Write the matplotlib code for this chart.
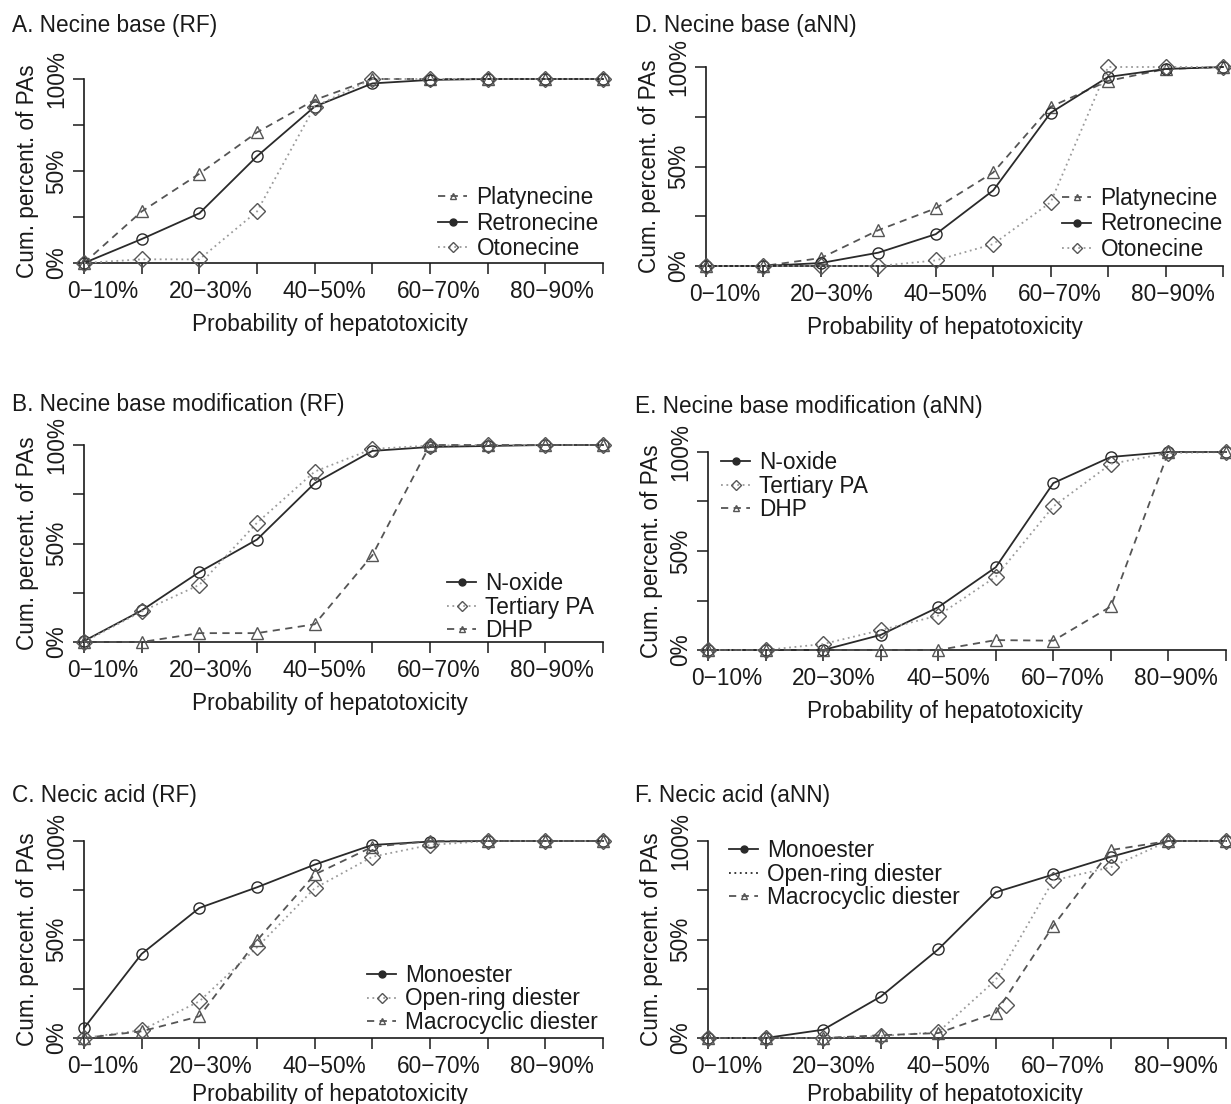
import matplotlib
matplotlib.use("Agg")
import matplotlib.pyplot as plt
from matplotlib.lines import Line2D
from matplotlib.transforms import ScaledTranslation

plt.rcParams["font.family"] = ["Liberation Sans", "DejaVu Sans"]

# probability bins on the x axis
bins = ["0−10%", "10−20%", "20−30%", "30−40%", "40−50%",
        "50−60%", "60−70%", "70−80%", "80−90%", "90−100%"]

# A. Necine base (RF)
a_platy = [0, 28, 48.5, 71, 88.6, 100, 100, 100, 100, 100]
a_retro = [0, 13, 27, 58, 85, 97.6, 99.5, 100, 100, 100]
a_otone = [0, 2, 2, 28, 85, 100, 100, 100, 100, 100]
# D. Necine base (aNN)
d_platy = [0, 0, 4, 18, 29, 47, 80, 93, 99, 100]
d_retro = [0, 0, 1.5, 6.7, 16, 38, 77, 95, 99, 100]
d_otone = [0, 0, 0, 0, 2.8, 11, 32, 100, 100, 100]
# B. Necine base modification (RF)
b_noxide = [0.5, 16, 35.5, 52, 80.6, 97, 99, 99.5, 100, 100]
b_tert = [0, 15.5, 29, 60.5, 86.5, 98, 99.7, 100, 100, 100]
b_dhp = [0, 0, 4.5, 4.5, 9, 44, 100, 100, 100, 100]
# E. Necine base modification (aNN)
e_noxide = [0, 0, 0, 7.6, 21.6, 41.8, 84.3, 97.5, 100, 100]
e_tert = [0, 0, 3, 10, 17.4, 37, 72.5, 94, 99.5, 100]
e_dhp = [0, 0, 0, 0, 0, 5, 4.7, 22, 100, 100]
# C. Necic acid (RF)
c_mono = [5, 42.7, 66, 76.5, 88, 98, 99.7, 100, 100, 100]
c_open = [0, 4, 18.6, 46, 76, 92, 98, 100, 100, 100]
c_macro = [0, 3.4, 11, 49.5, 83, 97, 100, 100, 100, 100]
# F. Necic acid (aNN)
f_mono = [0, 0, 4.2, 21, 45, 74, 83, 92, 100, 100]
f_open = [0, 0, 0, 1, 3, 29.5, 80, 86.7, 100, 100]
f_macro = [0, 0, 0, 1.4, 2.5, 12.7, 57, 95.4, 100, 100]
f_extra_x = [5.18]
f_extra_y = [17]

W, H = 1231, 1104
fig = plt.figure(figsize=(W / 100, H / 100), dpi=100)
fs = 16.3
tc = "#1a1a1a"

# linestyle, marker, line colour, marker colour
styles = {
    "solid": ("-", "o", "#2a2a2a", "#2a2a2a"),
    "dashed": ((0, (4, 3)), "^", "#555555", "#555555"),
    "dotted": ((0, (1, 2)), "D", "#9a9a9a", "#555555"),
}

# R drew the x labels a little right of their ticks
lab_shift = [19, 0, 11, 0, 10, 0, 9, 0, 7, 0]


def handle(kind, marker=True, filled=False):
    ls, mk, lc, mc = styles[kind]
    return Line2D([], [], linestyle=ls, color=lc, lw=1.3,
                  marker=mk if marker else None, ms=5,
                  mfc=mc if filled else "none", mec=mc, mew=1.0)


def panel(box, title, tpos, names, data, kinds, leg, legh=None, xlab_c=None,
          xlab_off=50):
    left, right, top, bottom = box
    wpx, hpx = right - left, bottom - top
    ax = fig.add_axes([left / W, 1 - bottom / H, wpx / W, hpx / H])
    x = list(range(len(bins)))
    for vals, kind in zip(data, kinds):
        ls, mk, lc, mc = styles[kind]
        ax.plot(x, vals, linestyle=ls, color=lc, lw=1.3, marker=mk, ms=8,
                mfc="none", mec=mc, mew=1.0, clip_on=False, zorder=3)
    ax.set_xlim(0, 9)
    ax.set_ylim(0, 100)
    for s in ["top", "right"]:
        ax.spines[s].set_visible(False)
    for s in ["left", "bottom"]:
        ax.spines[s].set_linewidth(1.2)
        ax.spines[s].set_color(tc)
    ax.set_xticks(x)
    ax.set_xticklabels([b if i % 2 == 0 else "" for i, b in enumerate(bins)])
    ax.set_yticks([0, 25, 50, 75, 100])
    ax.set_yticklabels(["0%", "", "50%", "", "100%"], rotation=90, va="center")
    ax.tick_params(direction="out", length=8.2, width=1.1, labelsize=fs,
                   colors=tc)
    ax.tick_params(axis="x", pad=4)
    ax.tick_params(axis="y", pad=3)
    for lab, dx in zip(ax.get_xticklabels(), lab_shift):
        lab.set_transform(lab.get_transform()
                          + ScaledTranslation(dx / 100, 0, fig.dpi_scale_trans))
    ax.set_xlabel("Probability of hepatotoxicity", fontsize=fs, color=tc)
    ax.set_ylabel("Cum. percent. of PAs", fontsize=fs, color=tc)
    ax.xaxis.set_label_coords((xlab_c - left) / wpx, -xlab_off / hpx)
    ax.yaxis.set_label_coords(-45 / wpx, 0.5)
    fig.text(tpos[0] / W, 1 - tpos[1] / H, title, fontsize=fs, color=tc,
             ha="left", va="baseline")
    if legh is None:
        legh = [handle(k, filled=(k == "solid")) for k in kinds]
    lx, ly, sp = leg
    ax.legend(legh, names, loc="center left",
              bbox_to_anchor=(lx / W, 1 - ly / H), bbox_transform=fig.transFigure,
              frameon=False, borderpad=0, borderaxespad=0, fontsize=fs,
              handlelength=1.3, handletextpad=0.4, labelspacing=sp,
              labelcolor=tc)
    return ax


panel((84, 603, 79, 263), "A. Necine base (RF)", (12, 32),
      ["Platynecine", "Retronecine", "Otonecine"],
      [a_platy, a_retro, a_otone], ["dashed", "solid", "dotted"],
      (438, 223, 0.12), xlab_c=330)

panel((706, 1223, 67, 266), "D. Necine base (aNN)", (635, 32),
      ["Platynecine", "Retronecine", "Otonecine"],
      [d_platy, d_retro, d_otone], ["dashed", "solid", "dotted"],
      (1062, 224, 0.1), xlab_c=945)

panel((84, 603, 445, 642), "B. Necine base modification (RF)", (12, 411),
      ["N-oxide", "Tertiary PA", "DHP"],
      [b_noxide, b_tert, b_dhp], ["solid", "dotted", "dashed"],
      (447, 607, 0.04), xlab_c=330)

panel((708, 1226, 452, 650), "E. Necine base modification (aNN)", (635, 413),
      ["N-oxide", "Tertiary PA", "DHP"],
      [e_noxide, e_tert, e_dhp], ["solid", "dotted", "dashed"],
      (721, 486, 0.04), xlab_c=945)

panel((84, 603, 841, 1038), "C. Necic acid (RF)", (12, 802),
      ["Monoester", "Open-ring diester", "Macrocyclic diester"],
      [c_mono, c_open, c_macro], ["solid", "dotted", "dashed"],
      (367, 999, 0.04), xlab_c=330, xlab_off=45)

axf = panel((708, 1226, 841, 1038), "F. Necic acid (aNN)", (635, 802),
            ["Monoester", "Open-ring diester", "Macrocyclic diester"],
            [f_mono, f_open, f_macro], ["solid", "dotted", "dashed"],
            (729, 874, 0.04),
            legh=[handle("solid", filled=True),
                  Line2D([], [], linestyle=(0, (1, 2)), color="#2a2a2a", lw=1.3),
                  handle("dashed")],
            xlab_c=945, xlab_off=45)
axf.plot(f_extra_x, f_extra_y, linestyle="none", marker="D", ms=8,
         mfc="none", mec="#555555", mew=1.0, zorder=3)

fig.savefig("out.png", dpi=100)
